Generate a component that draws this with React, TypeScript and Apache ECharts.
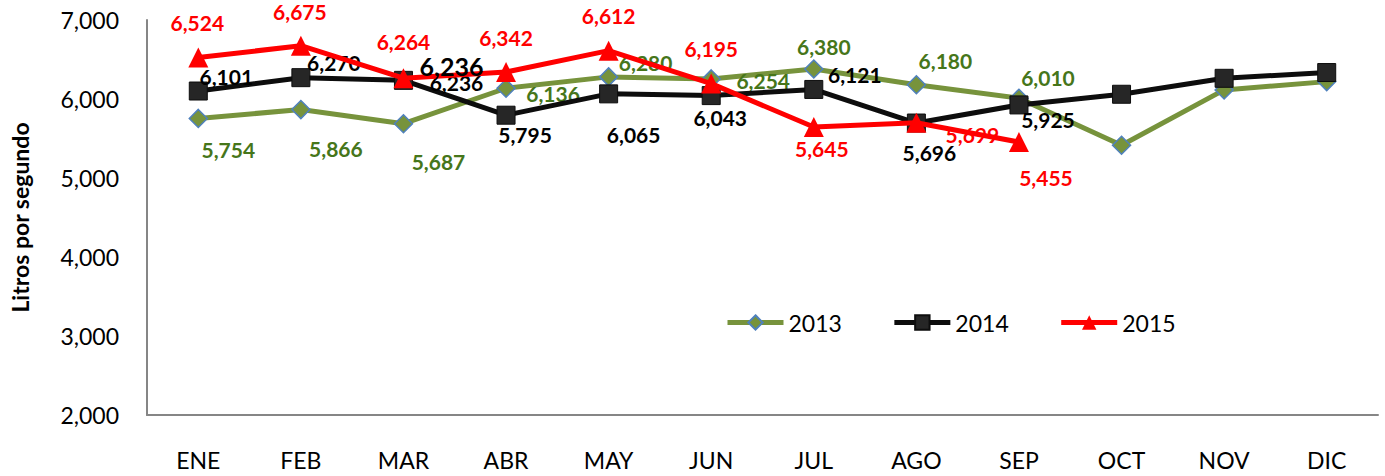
import React, { useEffect, useRef } from "react";
import * as echarts from "echarts";

const months = ["ENE", "FEB", "MAR", "ABR", "MAY", "JUN", "JUL", "AGO", "SEP", "OCT", "NOV", "DIC"];
const s2013 = [5754, 5866, 5687, 6136, 6280, 6254, 6380, 6180, 6010, 5415, 6115, 6220];
const s2014 = [6101, 6270, 6236, 5795, 6065, 6043, 6121, 5696, 5925, 6060, 6262, 6335];
const s2015 = [6524, 6675, 6264, 6342, 6612, 6195, 5645, 5699, 5455, null, null, null];
const extraLabelMonth = "MAR";
const extraLabelValue = 6236;

// label offsets (dx, dy) relative to the marker centre; null = no label
const off2013: (number[] | null)[] = [[30, 31], [35, 39], [35, 38], [47, 5], [37, -14], [52, 2], [10, -22], [29, -24], [29, -21], null, null, null];
const off2014: (number[] | null)[] = [[28, -15], [33, -15], [53, 2], [19, 19], [25, 41], [9, 22], [41, -15], [13, 29], [29, 15], null, null, null];
const off2015: (number[] | null)[] = [[-1, -35], [-1, -34], [0, -37], [0, -34], [0, -35], [0, -35], [8, 21], [56, 12], [27, 35], null, null, null];

const FONT = "Lato";
const fmt = (v: number) => v.toLocaleString("en-US");

function build(values: (number | null)[], offs: (number[] | null)[], color: string) {
  return values.map((v, i) => {
    const o = offs[i];
    return {
      value: v,
      label: o
        ? {
            show: true,
            position: "inside",
            offset: o,
            color,
            fontFamily: FONT,
            fontWeight: "bold",
            fontSize: 21,
            formatter: (p: any) => fmt(p.value),
          }
        : { show: false },
    };
  });
}

export default function App() {
  const ref = useRef<HTMLDivElement>(null);
  useEffect(() => {
    const chart = echarts.init(ref.current!, null, { renderer: "svg" });
    chart.setOption({
      animation: false,
      backgroundColor: "#ffffff",
      textStyle: { fontFamily: FONT },
      grid: { left: 146, right: 7, top: 20, bottom: 61 },
      legend: {
        data: ["2013", "2014", "2015"],
        left: 720,
        top: 306,
        itemWidth: 56,
        itemHeight: 18,
        itemGap: 50,
        lineStyle: { width: 5 },
        textStyle: { fontFamily: FONT, fontSize: 23, color: "#000" },
      },
      xAxis: {
        type: "category",
        data: months,
        boundaryGap: true,
        axisLine: { lineStyle: { color: "#868686", width: 2 } },
        axisTick: { show: false },
        axisLabel: { fontFamily: FONT, fontSize: 23, color: "#000", margin: 33 },
      },
      yAxis: {
        type: "value",
        min: 2000,
        max: 7000,
        interval: 1000,
        name: "Litros por segundo",
        nameLocation: "middle",
        nameGap: 116,
        nameTextStyle: { fontFamily: FONT, fontSize: 23, fontWeight: "bold", color: "#000" },
        axisLine: { show: true, lineStyle: { color: "#868686", width: 2 } },
        axisTick: { show: false },
        splitLine: { show: false },
        axisLabel: { fontFamily: FONT, fontSize: 23, color: "#000", margin: 28, formatter: (v: number) => fmt(v) },
      },
      series: [
        {
          name: "2013",
          type: "line",
          data: build(s2013, off2013, "#46761A"),
          symbol: "diamond",
          symbolSize: 18,
          lineStyle: { color: "#77933C", width: 5 },
          itemStyle: { color: "#77933C", borderColor: "#4F81BD", borderWidth: 1.5 },
          z: 2,
        },
        {
          name: "2014",
          type: "line",
          data: build(s2014, off2014, "#000000"),
          symbol: "rect",
          symbolSize: 18,
          lineStyle: { color: "#0D0D0D", width: 5 },
          itemStyle: { color: "#262626", borderColor: "#0D0D0D", borderWidth: 1 },
          z: 3,
          markPoint: {
            symbol: "circle",
            symbolSize: 2,
            itemStyle: { color: "rgba(255,255,255,0)" },
            label: {
              show: true,
              position: "inside",
              offset: [48, -14],
              color: "#000",
              fontFamily: FONT,
              fontWeight: "bold",
              fontSize: 25,
              formatter: (p: any) => fmt(p.value),
            },
            data: [{ coord: [extraLabelMonth, extraLabelValue], value: extraLabelValue }],
          },
        },
        {
          name: "2015",
          type: "line",
          data: build(s2015, off2015, "#FF0000"),
          symbol: "triangle",
          symbolSize: 20,
          lineStyle: { color: "#FF0000", width: 5 },
          itemStyle: { color: "#FF0000" },
          z: 4,
        },
      ],
    });
    return () => chart.dispose();
  }, []);
  return <div ref={ref} style={{ position: "fixed", left: 0, top: 0, width: 1385, height: 476 }} />;
}
